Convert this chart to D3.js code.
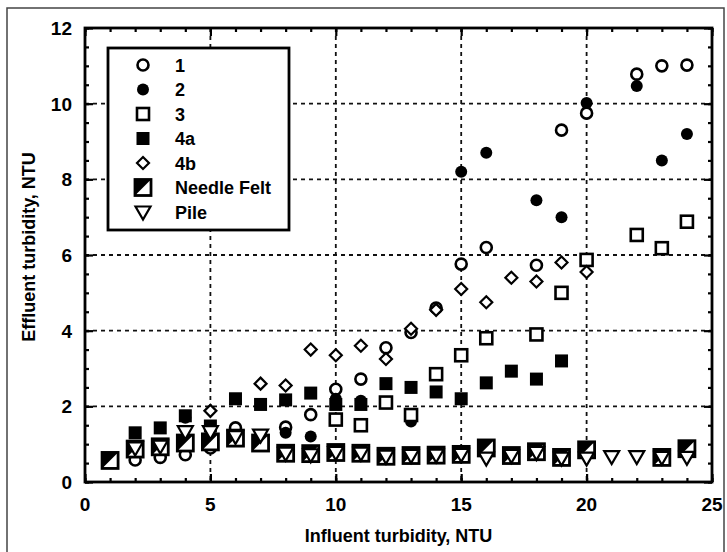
<!DOCTYPE html>
<meta charset="utf-8">
<script src="https://d3js.org/d3.v7.min.js"></script>
<style>
  body { margin: 0; background: #fff; }
  text { font-family: "Liberation Sans", Arial, sans-serif; font-weight: bold; fill: #000; }
</style>
<div id="chart"></div>
<script>
// data: [influent, effluent] per series
var s1 = [[2,0.58],[3,0.65],[4,0.72],[5,0.9],[6,1.43],[7,1.1],[8,1.45],[9,1.78],[10,2.45],[11,2.72],[12,3.55],[13,3.95],[14,4.6],[15,5.76],[16,6.2],[18,5.73],[19,9.3],[20,9.75],[22,10.78],[23,11.0],[24,11.02]];
var s2 = [[4,1.7],[6,1.2],[8,1.3],[9,1.2],[10,2.2],[11,2.15],[13,1.6],[15,8.2],[16,8.7],[18,7.45],[19,7.0],[20,10.02],[22,10.47],[23,8.5],[24,9.2]];
var s3 = [[10,1.65],[11,1.5],[12,2.1],[13,1.77],[14,2.85],[15,3.35],[16,3.8],[18,3.9],[19,5.0],[20,5.87],[22,6.53],[23,6.18],[24,6.88]];
var s4a = [[2,1.3],[3,1.43],[4,1.75],[5,1.48],[6,2.2],[7,2.05],[8,2.17],[9,2.35],[10,2.05],[11,2.05],[12,2.6],[13,2.5],[14,2.38],[15,2.2],[16,2.62],[17,2.93],[18,2.72],[19,3.2]];
var s4b = [[5,1.88],[7,2.6],[8,2.55],[9,3.5],[10,3.35],[11,3.6],[12,3.25],[13,4.05],[14,4.55],[15,5.1],[16,4.75],[17,5.4],[18,5.3],[19,5.8],[20,5.55]];
var needleFelt = [[1,0.57],[2,0.87],[3,0.93],[4,1.03],[5,1.06],[6,1.16],[7,1.03],[8,0.76],[9,0.75],[10,0.78],[11,0.76],[12,0.68],[13,0.7],[14,0.71],[15,0.73],[16,0.9],[17,0.7],[18,0.8],[19,0.65],[20,0.85],[23,0.65],[24,0.88]];
var pile = [[2,0.9],[3,0.95],[4,1.33],[5,1.33],[6,1.2],[7,1.24],[8,0.76],[9,0.72],[10,0.78],[11,0.76],[12,0.68],[13,0.7],[14,0.71],[15,0.73],[16,0.63],[17,0.7],[18,0.78],[19,0.63],[20,0.63],[21,0.67],[22,0.67],[23,0.65],[24,0.65]];

var seriesNames = ["1", "2", "3", "4a", "4b", "Needle Felt", "Pile"];
var seriesKinds = ["circleOpen", "circleFill", "squareOpen", "squareFill", "diamond", "felt", "triangle"];
var seriesData = [s1, s2, s3, s4a, s4b, needleFelt, pile];

var xTicks = [0, 5, 10, 15, 20, 25];
var yTicks = [0, 2, 4, 6, 8, 10, 12];

var W = 727, H = 552;
var margin = {top: 28, right: 15, bottom: 70, left: 85};
var width = W - margin.left - margin.right,
    height = H - margin.top - margin.bottom;

var svg = d3.select("#chart").append("svg")
    .attr("width", W)
    .attr("height", H);

// outer frame of the figure
svg.append("rect")
    .attr("x", 7).attr("y", 8)
    .attr("width", W - 10).attr("height", H - 6)
    .attr("fill", "none")
    .attr("stroke", "#444")
    .attr("stroke-width", 1.5);

var g = svg.append("g")
    .attr("transform", "translate(" + margin.left + "," + margin.top + ")");

var x = d3.scaleLinear().domain([0, 25]).range([0, width]);
var y = d3.scaleLinear().domain([0, 12]).range([height, 0]);

// dashed grid
g.selectAll(".gx").data(xTicks.slice(1, -1)).enter().append("line")
    .attr("x1", d => x(d)).attr("x2", d => x(d))
    .attr("y1", 0).attr("y2", height)
    .attr("stroke", "#111").attr("stroke-width", 1.8)
    .attr("stroke-dasharray", "4,4");
g.selectAll(".gy").data(yTicks.slice(1, -1)).enter().append("line")
    .attr("x1", 0).attr("x2", width)
    .attr("y1", d => y(d)).attr("y2", d => y(d))
    .attr("stroke", "#111").attr("stroke-width", 1.8)
    .attr("stroke-dasharray", "4,4");

// inward ticks on all four sides
function ticks(axisFn, scale, major, minor, tr) {
  var a = g.append("g").attr("transform", tr || null);
  a.call(axisFn(scale).tickValues(minor).tickSize(-4).tickFormat(""));
  a.append("g").call(axisFn(scale).tickValues(major).tickSize(-8).tickFormat(""));
  a.selectAll(".domain").remove();
  a.selectAll("line").attr("stroke", "#000").attr("stroke-width", 2.2);
}
var xMinor = d3.range(0, 26, 1), yMinor = d3.range(0, 12.01, 0.5);
ticks(d3.axisBottom, x, xTicks, xMinor, "translate(0," + height + ")");
ticks(d3.axisTop, x, xTicks, xMinor);
ticks(d3.axisLeft, y, yTicks, yMinor);
ticks(d3.axisRight, y, yTicks, yMinor, "translate(" + width + ",0)");

// frame of the plot
g.append("rect")
    .attr("width", width).attr("height", height)
    .attr("fill", "none").attr("stroke", "#000").attr("stroke-width", 2.8);

// tick labels
g.selectAll(".xl").data(xTicks).enter().append("text")
    .attr("x", d => x(d)).attr("y", height + 29)
    .attr("text-anchor", "middle")
    .style("font-size", "19px")
    .text(d => d);
g.selectAll(".yl").data(yTicks).enter().append("text")
    .attr("x", -13).attr("y", d => y(d) + 7)
    .attr("text-anchor", "end")
    .style("font-size", "19px")
    .text(d => d);

// axis titles
g.append("text")
    .attr("x", width / 2).attr("y", height + 60)
    .attr("text-anchor", "middle")
    .style("font-size", "18px")
    .text("Influent turbidity, NTU");
g.append("text")
    .attr("transform", "translate(-50," + (height / 2 - 8) + ") rotate(-90)")
    .attr("text-anchor", "middle")
    .style("font-size", "18px")
    .text("Effluent turbidity, NTU");

// marker drawing
function marker(sel, kind) {
  if (kind === "circleOpen") {
    sel.append("circle").attr("r", 5.5).attr("fill", "#fff").attr("stroke", "#000").attr("stroke-width", 2.6);
  } else if (kind === "circleFill") {
    sel.append("circle").attr("r", 6).attr("fill", "#000");
  } else if (kind === "squareOpen") {
    sel.append("rect").attr("x", -6).attr("y", -6).attr("width", 12).attr("height", 12)
      .attr("fill", "#fff").attr("stroke", "#000").attr("stroke-width", 2.6);
  } else if (kind === "squareFill") {
    sel.append("rect").attr("x", -6.5).attr("y", -6.5).attr("width", 13).attr("height", 13).attr("fill", "#000");
  } else if (kind === "diamond") {
    sel.append("path").attr("d", "M0,-6L6,0L0,6L-6,0Z")
      .attr("fill", "#fff").attr("stroke", "#000").attr("stroke-width", 2.2);
  } else if (kind === "felt") {
    sel.append("rect").attr("x", -8).attr("y", -8).attr("width", 16).attr("height", 16)
      .attr("fill", "#fff").attr("stroke", "#000").attr("stroke-width", 2.8);
    sel.append("path").attr("d", "M-8,-8L8,-8L-8,8Z").attr("fill", "#000");
  } else if (kind === "triangle") {
    sel.append("path").attr("d", "M-7.5,-5.5L7.5,-5.5L0,7.5Z")
      .attr("fill", "#fff").attr("stroke", "#000").attr("stroke-width", 2.2)
      .attr("stroke-linejoin", "miter");
  }
}

seriesData.forEach(function(data, i) {
  g.append("g").selectAll("g").data(data).enter().append("g")
    .attr("transform", d => "translate(" + x(d[0]) + "," + y(d[1]) + ")")
    .each(function() { marker(d3.select(this), seriesKinds[i]); });
});

// legend
var legend = g.append("g").attr("transform", "translate(23,20)");
legend.append("rect")
    .attr("width", 181).attr("height", 182)
    .attr("fill", "#fff").attr("stroke", "#000").attr("stroke-width", 2.8);
seriesNames.forEach(function(name, i) {
  var row = legend.append("g").attr("transform", "translate(0," + (17 + i * 24.5) + ")");
  marker(row.append("g").attr("transform", "translate(35,0)"), seriesKinds[i]);
  row.append("text").attr("x", 67).attr("y", 6.5)
    .style("font-size", "18px")
    .text(name);
});
</script>
